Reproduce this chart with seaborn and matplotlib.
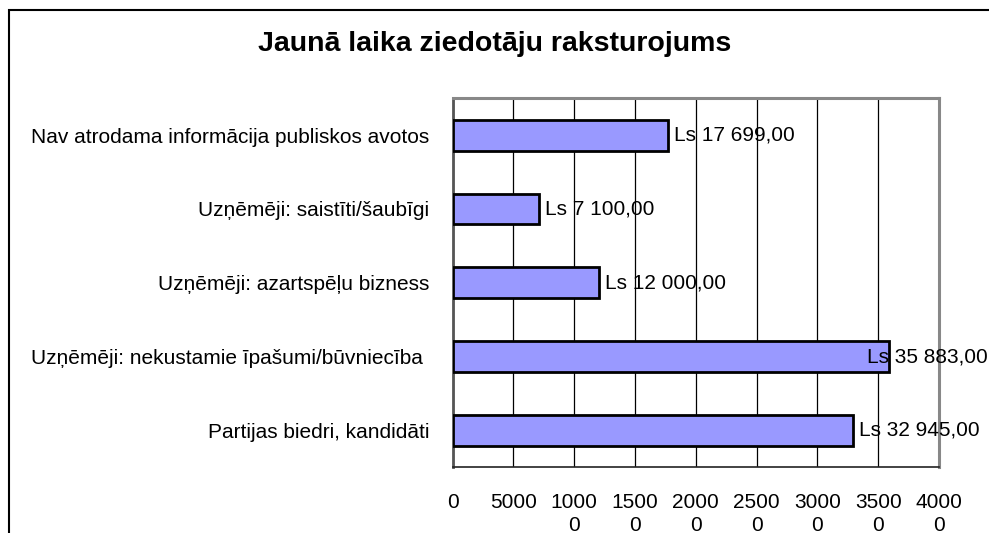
import matplotlib
matplotlib.use('Agg')
import matplotlib.pyplot as plt
import seaborn as sns
import pandas as pd
from matplotlib.patches import Rectangle
from matplotlib.ticker import FixedLocator

categories = [
    "Nav atrodama informācija publiskos avotos",
    "Uzņēmēji: saistīti/šaubīgi",
    "Uzņēmēji: azartspēļu bizness",
    "Uzņēmēji: nekustamie īpašumi/būvniecība ",
    "Partijas biedri, kandidāti",
]
amounts = [17699, 7100, 12000, 35883, 32945]
x_ticks = [0, 5000, 10000, 15000, 20000, 25000, 30000, 35000, 40000]
x_tick_labels = ["0", "5000", "1000\n0", "1500\n0", "2000\n0",
                 "2500\n0", "3000\n0", "3500\n0", "4000\n0"]
title = "Jaunā laika ziedotāju raksturojums"


def ls_format(v):
    return "Ls " + f"{v:,.2f}".replace(",", " ").replace(".", ",")


sns.set_style('white')
plt.rcParams['font.family'] = ['Liberation Sans', 'DejaVu Sans']
plt.rcParams['text.color'] = 'black'
plt.rcParams['xtick.color'] = 'black'
plt.rcParams['ytick.color'] = 'black'

FS = 15
df = pd.DataFrame({'kategorija': categories, 'summa': amounts})

fig = plt.figure(figsize=(9.89, 5.33), dpi=100)
ax = fig.add_axes([452.7 / 989, 1 - 467.3 / 533, (939 - 452.7) / 989, (467.3 - 98.3) / 533])

sns.barplot(data=df, x='summa', y='kategorija', orient='h', color='#9999FF',
            saturation=1, width=0.42, edgecolor='black', linewidth=2, ax=ax, zorder=3)

ax.set_xlim(0, 40000)
ax.set_ylim(4.5, -0.5)
ax.set_xticks(x_ticks)
ax.set_xticklabels(x_tick_labels, fontsize=FS, linespacing=1.3)
ax.grid(axis='x', color='black', linewidth=0.9, zorder=1)
ax.set_axisbelow(True)
ax.set_xlabel('')
ax.set_ylabel('')

# y ticks: labels centred, marks at category boundaries
ax.tick_params(axis='y', which='major', length=0, pad=17, labelsize=FS)
ax.yaxis.set_minor_locator(FixedLocator([i - 0.5 for i in range(len(categories) + 1)]))
ax.tick_params(axis='y', which='minor', length=6, width=1, color='#333333', direction='out')
ax.tick_params(axis='x', length=6, width=1, color='#333333', direction='out', pad=12.5)

for side in ['top', 'right']:
    ax.spines[side].set_color('#888888')
    ax.spines[side].set_linewidth(2.2)
ax.spines['left'].set_color('#555555')
ax.spines['left'].set_linewidth(2)
ax.spines['bottom'].set_color('#222222')
ax.spines['bottom'].set_linewidth(1.2)

fig.canvas.draw()
fig_w_px = fig.bbox.width
for i, v in enumerate(amounts):
    t = ax.annotate(ls_format(v), xy=(v, i), xytext=(6, 0), textcoords='offset pixels',
                    ha='left', va='center', fontsize=FS, zorder=5)
    bb = t.get_window_extent(renderer=fig.canvas.get_renderer())
    if bb.x1 > fig_w_px - 1:
        # like Excel, pull the label back inside the chart area
        t.set_position((6 - (bb.x1 - fig_w_px + 1), 0))

fig.text(0.5, 1 - 44 / 533, title, ha='center', va='center', fontsize=20.5, fontweight='bold')

# outer frame of the chart
fig.patches.append(Rectangle((9 / 989, -0.05), 1.1, 1 - 10 / 533 + 0.05, transform=fig.transFigure,
                             fill=False, edgecolor='black', linewidth=1.5))

fig.savefig('out.png', dpi=100)
